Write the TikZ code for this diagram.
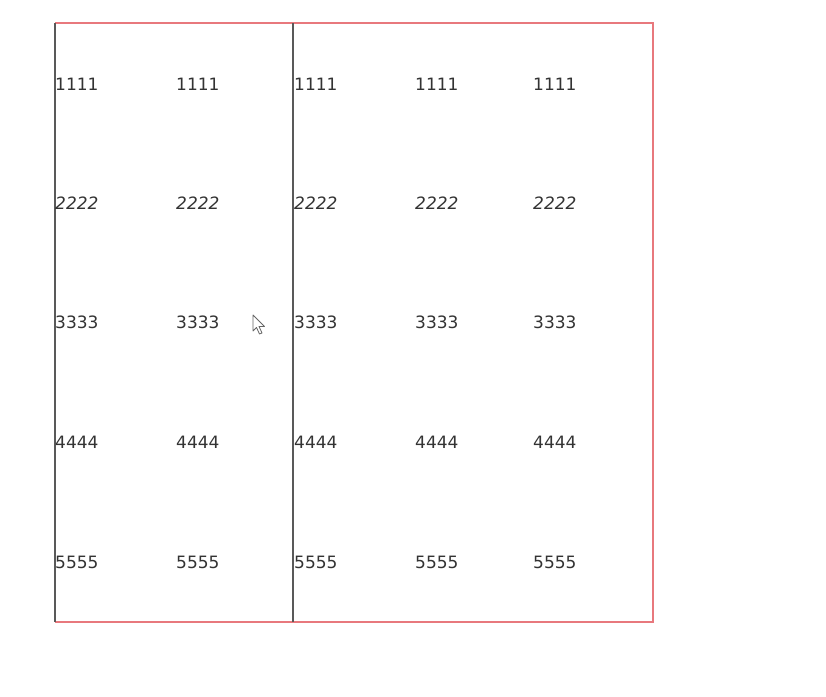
\documentclass[tikz,border=0pt]{standalone}
\usepackage{fontspec}
\setmainfont{DejaVu Sans}
\begin{document}
\begin{tikzpicture}[x=1pt,y=-1pt,
  cell/.style={anchor=west,inner sep=0pt,font=\fontsize{17}{20}\selectfont,text=black!80},
  icell/.style={cell,font=\fontsize{17}{20}\selectfont\itshape}]
\definecolor{bordred}{RGB}{232,120,125}
\useasboundingbox (0,0) rectangle (826,696);
\fill[white] (0,0) rectangle (826,696);
\coordinate (tl) at (55,23);
\coordinate (tr) at (653,23);
\coordinate (br) at (653,622);
\coordinate (bl) at (55,622);
\coordinate (mt) at (293,23);
\coordinate (mb) at (293,622);
\draw[bordred,line width=1.5pt] (tl) -- (tr) -- (br) -- (bl);
\draw[black!65,line width=1.5pt] (tl) -- (bl);
\draw[black!65,line width=1.5pt] (mt) -- (mb);
\foreach \x [count=\c] in {55,176,294,415,533}{
  \node[cell] (r1c\c) at (\x,84) {1111};
  \node[icell] (r2c\c) at (\x,203) {2222};
  \node[cell] (r3c\c) at (\x,322) {3333};
  \node[cell] (r4c\c) at (\x,442) {4444};
  \node[cell] (r5c\c) at (\x,562) {5555};
}
% mouse cursor
\draw[black!60,fill=white,line width=0.8pt,line join=round]
  (253,315) -- (253,331) -- (256.5,327.5) -- (259.5,334) -- (262,333) -- (259,326.5) -- (264.5,326.5) -- cycle;
\end{tikzpicture}
\end{document}
